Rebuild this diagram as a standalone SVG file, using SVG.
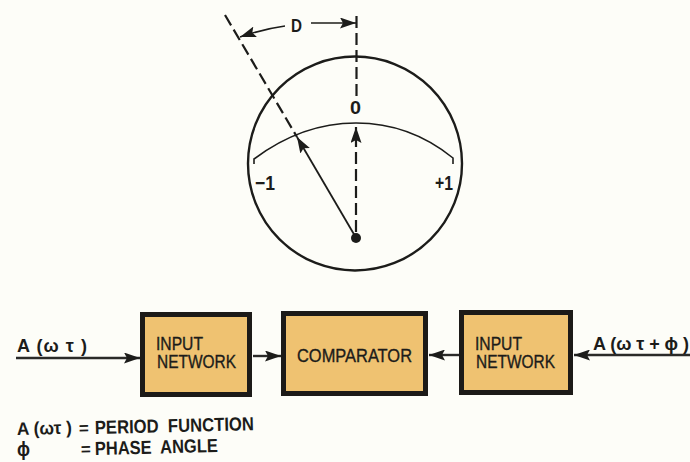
<svg xmlns="http://www.w3.org/2000/svg" width="690" height="462" viewBox="0 0 690 462">
<style>
.t{font-family:"Liberation Sans",Arial,sans-serif;fill:#1c1c1a}
.b{font-weight:bold}
.m{stroke:#1c1c1a;stroke-width:.35}
.box{fill:#efc271;stroke:#1c1a18;stroke-width:5}
.thin{fill:none;stroke:#1c1c1a;stroke-width:1.6}
.dash{fill:none;stroke:#1c1c1a;stroke-width:2.200;stroke-dasharray:12 5}
.sig{fill:none;stroke:#2a2a28;stroke-width:2.400}
.head{fill:#1c1c1a}
</style>
<defs>
<marker id="ah" markerUnits="userSpaceOnUse" markerWidth="17" markerHeight="11" refX="16" refY="5.500" orient="auto"><path d="M0 0L16 5.500L0 11L3 5.500Z" class="head"/></marker>
</defs>
<rect width="690" height="462" fill="#fdfdf8"/>
<g id="meter">
<circle cx="355" cy="163.500" r="107" fill="none" stroke="#1c1c1a" stroke-width="2.400"/>
<path class="thin" d="M254 164V159Q302 123 356 123Q410 123 453 158V164"/>
<circle cx="356" cy="238" r="5" fill="#1c1c1a"/>
<text class="t b" x="350" y="114" font-size="19" textLength="11" lengthAdjust="spacingAndGlyphs">0</text>
<text class="t b" x="255" y="190" font-size="20" textLength="20" lengthAdjust="spacingAndGlyphs">−1</text>
<text class="t b" x="435" y="190" font-size="20" textLength="18" lengthAdjust="spacingAndGlyphs">+1</text>
<text class="t b" x="291" y="32" font-size="19" textLength="11" lengthAdjust="spacingAndGlyphs">D</text>
</g>
<g id="connectors">
<path class="dash" d="M225 15L297 137"/>
<path class="dash" d="M356.500 16V96"/>
<path class="dash" d="M356 232V127" marker-end="url(#ah)"/>
<path d="M355 236L297 137" fill="none" stroke="#1c1c1a" stroke-width="1.800" marker-end="url(#ah)"/>
<path class="thin" d="M285 26Q263 29 240 37" marker-end="url(#ah)"/>
<path class="thin" d="M311 23H356" marker-end="url(#ah)"/>
<path class="sig" d="M16 358H140" marker-end="url(#ah)"/>
<path class="sig" d="M253 356H281" marker-end="url(#ah)"/>
<path class="sig" d="M459 355H429" marker-end="url(#ah)"/>
<path class="sig" d="M690 355H574" marker-end="url(#ah)"/>
</g>
<g id="input-network-1">
<rect class="box" x="142.500" y="314.500" width="107" height="80"/>
<text class="t m" x="156" y="350" font-size="18" textLength="47" lengthAdjust="spacingAndGlyphs">INPUT</text>
<text class="t m" x="157" y="368" font-size="18" textLength="79" lengthAdjust="spacingAndGlyphs">NETWORK</text>
</g>
<g id="comparator">
<rect class="box" x="283.500" y="313.500" width="142" height="80"/>
<text class="t m" x="297" y="362" font-size="18" textLength="115" lengthAdjust="spacingAndGlyphs">COMPARATOR</text>
</g>
<g id="input-network-2">
<rect class="box" x="461.500" y="312.500" width="109" height="80"/>
<text class="t m" x="475" y="350" font-size="18" textLength="47" lengthAdjust="spacingAndGlyphs">INPUT</text>
<text class="t m" x="476" y="368" font-size="18" textLength="79" lengthAdjust="spacingAndGlyphs">NETWORK</text>
</g>
<g id="labels">
<text class="t b" x="17" y="352" font-size="18" textLength="70" xml:space="preserve">A (ω τ )</text>
<text class="t b" x="593" y="350" font-size="18" textLength="96" xml:space="preserve">A (ω τ + ϕ )</text>
<text class="t b" x="17" y="435" font-size="18" textLength="55" lengthAdjust="spacingAndGlyphs" transform="rotate(-1.400 17 435)">A (ωτ )</text>
<text class="t b" x="79" y="434" font-size="17" transform="rotate(-1.400 79 434)">=</text>
<text class="t b" x="95" y="434" font-size="19" textLength="159" lengthAdjust="spacingAndGlyphs" transform="rotate(-1.400 95 434)" xml:space="preserve">PERIOD  FUNCTION</text>
<text class="t b" x="17" y="456" font-size="21" textLength="13" lengthAdjust="spacingAndGlyphs">ϕ</text>
<text class="t b" x="81" y="455" font-size="17" transform="rotate(-1.400 81 455)">=</text>
<text class="t b" x="95" y="455" font-size="19" textLength="123" lengthAdjust="spacingAndGlyphs" transform="rotate(-1.400 95 455)" xml:space="preserve">PHASE  ANGLE</text>
</g>
</svg>
